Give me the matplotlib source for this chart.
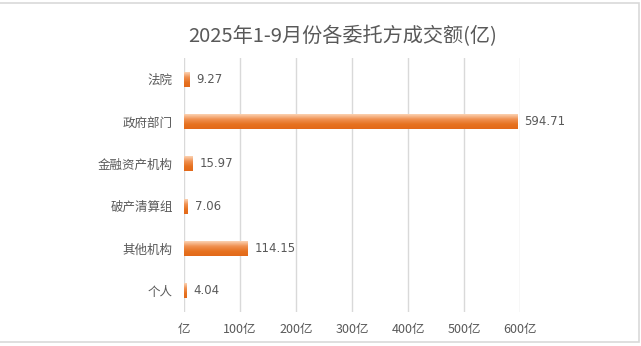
import matplotlib.pyplot as plt
import numpy as np
from matplotlib.colors import LinearSegmentedColormap
from matplotlib.patches import Rectangle

plt.rcParams['font.family'] = ['Noto Sans CJK SC', 'DejaVu Sans']

categories = ['法院', '政府部门', '金融资产机构', '破产清算组', '其他机构', '个人']
values = [9.27, 594.71, 15.97, 7.06, 114.15, 4.04]
ticks = [0, 100, 200, 300, 400, 500, 600]
tick_labels = ['亿', '100亿', '200亿', '300亿', '400亿', '500亿', '600亿']
title = '2025年1-9月份各委托方成交额(亿)'

text_color = '#595959'
grid_color = '#d9d9d9'

# light top edge fading into a darker orange body
shade = LinearSegmentedColormap.from_list(
    'bar_shade', [(0.0, '#fbd2b2'), (0.35, '#f09050'), (0.7, '#e6711f'), (1.0, '#e2691a')])

fig = plt.figure(figsize=(6.41, 3.46), dpi=100)
ax = fig.add_axes([184 / 641, 1 - 312 / 346, (520 - 184) / 641, (312 - 58) / 346])

n = len(categories)
ypos = np.arange(n)
bar_h = 0.35

grad = np.linspace(0, 1, 64).reshape(-1, 1)
for y, v in zip(ypos, values):
    ax.imshow(grad, cmap=shade, aspect='auto', interpolation='bilinear',
              extent=[0, v, y + bar_h / 2, y - bar_h / 2], zorder=2)
    ax.text(v + 12, y, f'{v:.2f}', va='center', ha='left', fontsize=8.5,
            color=text_color, family=['DejaVu Sans'])

ax.set_xlim(0, 600)
ax.set_ylim(n - 0.5, -0.5)
ax.set_xticks(ticks)
ax.set_xticklabels(tick_labels, fontsize=9, color=text_color)
ax.set_yticks(ypos)
ax.set_yticklabels(categories, fontsize=9, color=text_color)
ax.tick_params(axis='x', length=0, pad=8)
ax.tick_params(axis='y', length=0, pad=8)
ax.grid(axis='x', color=grid_color, linewidth=1, zorder=0)
ax.set_axisbelow(True)
for s in ax.spines.values():
    s.set_visible(False)

fig.text(343 / 641, 1 - 37 / 346, title, ha='center', va='center',
         fontsize=14.5, color=text_color)

# outer chart frame
fig.patches.append(Rectangle((-1 / 641, 1 - 342 / 346), 640 / 641, 339 / 346,
                             transform=fig.transFigure, fill=False,
                             edgecolor='#d9d9d9', linewidth=1.2))

fig.savefig('out.png', dpi=100)
